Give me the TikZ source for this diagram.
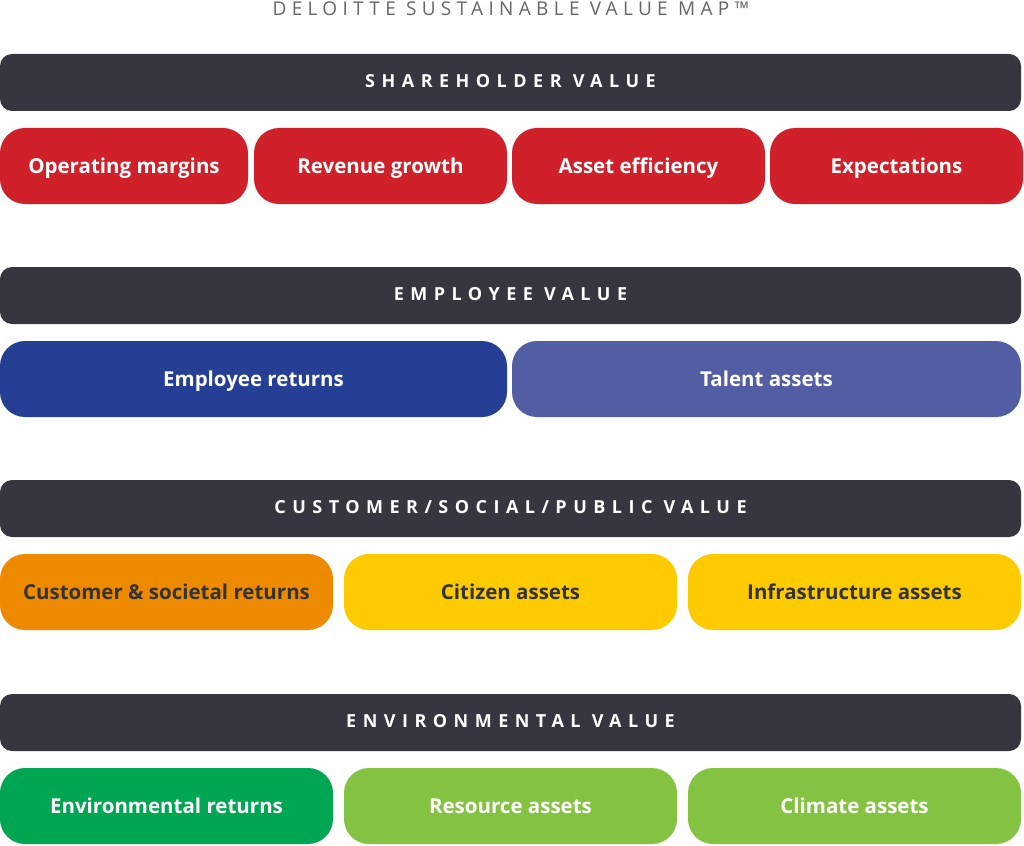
\documentclass[tikz,border=0pt]{standalone}
\usepackage{fontspec}
\setmainfont{Open Sans}
\newfontfamily\barfont[LetterSpace=36]{Open Sans}
\newfontfamily\titlefont[LetterSpace=28]{Open Sans}
\usetikzlibrary{calc}

\definecolor{bardark}{HTML}{363641}
\definecolor{shred}{HTML}{D0202A}
\definecolor{empblue}{HTML}{243F93}
\definecolor{talentblue}{HTML}{525DA3}
\definecolor{custorange}{HTML}{EE8A00}
\definecolor{citiyellow}{HTML}{FDCB00}
\definecolor{envgreen}{HTML}{00A651}
\definecolor{reslime}{HTML}{84C341}
\definecolor{darktext}{HTML}{333333}

\tikzset{
  valuebar/.style={fill=bardark, rounded corners=12pt, minimum width=1021pt,
    minimum height=57pt, inner sep=0pt, text=white, text height=13pt, text depth=3pt,
    font=\barfont\bfseries\fontsize{18}{20}\selectfont},
  pill/.style={rounded corners=25pt, minimum height=76pt, inner sep=0pt,
    text=white, text height=18pt, text depth=4pt,
    font=\bfseries\fontsize{20.5}{24}\selectfont},
}

\begin{document}
\begin{tikzpicture}[x=1pt, y=-1pt]

\useasboundingbox (0,0) rectangle (1024,845);

\node[anchor=base, text=gray!80!black, font=\titlefont\fontsize{19}{20}\selectfont] (title) at (511,16) {DELOITTE SUSTAINABLE VALUE MAP™};

% shareholder
\node[valuebar] (share) at (510.5,82.5) {SHAREHOLDER VALUE};
\node[pill, fill=shred, minimum width=248pt] (opm) at (124,166) {Operating margins};
\node[pill, fill=shred, minimum width=253pt] (rev) at (380.5,166) {Revenue growth};
\node[pill, fill=shred, minimum width=253pt] (asset) at (638.5,166) {Asset efficiency};
\node[pill, fill=shred, minimum width=253pt] (expect) at (896.5,166) {Expectations};

% employee
\node[valuebar] (emp) at (510.5,295.5) {EMPLOYEE VALUE};
\node[pill, fill=empblue, minimum width=507pt] (empret) at (253.5,379) {Employee returns};
\node[pill, fill=talentblue, minimum width=509pt] (talent) at (766.5,379) {Talent assets};

% customer
\node[valuebar] (cust) at (510.5,508.5) {CUSTOMER/SOCIAL/PUBLIC VALUE};
\node[pill, fill=custorange, text=darktext, minimum width=333pt] (custret) at (166.5,592) {Customer \& societal returns};
\node[pill, fill=citiyellow, text=darktext, minimum width=333pt] (citizen) at (510.5,592) {Citizen assets};
\node[pill, fill=citiyellow, text=darktext, minimum width=333pt] (infra) at (854.5,592) {Infrastructure assets};

% environmental
\node[valuebar] (env) at (510.5,722.5) {ENVIRONMENTAL VALUE};
\node[pill, fill=envgreen, minimum width=333pt] (envret) at (166.5,806) {Environmental returns};
\node[pill, fill=reslime, minimum width=333pt] (resource) at (510.5,806) {Resource assets};
\node[pill, fill=reslime, minimum width=333pt] (climate) at (854.5,806) {Climate assets};

\end{tikzpicture}
\end{document}
